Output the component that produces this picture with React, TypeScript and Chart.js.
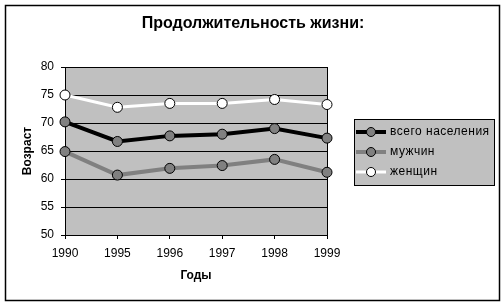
import React, { useEffect, useRef } from "react";
import { Chart, registerables } from "chart.js";

Chart.register(...registerables);

const years = ["1990", "1995", "1996", "1997", "1998", "1999"];
const total = [70.2, 66.7, 67.7, 68.0, 69.0, 67.3];
const men = [64.9, 60.7, 61.9, 62.4, 63.5, 61.2];
const women = [75.0, 72.8, 73.5, 73.5, 74.2, 73.3];
const seriesNames = ["всего населения", "мужчин", "женщин"];
const titleText = "Продолжительность жизни:";
const yTitle = "Возраст";
const xTitle = "Годы";

const FONT = "'Liberation Sans', Arial, sans-serif";

const decor = {
  id: "decor",
  beforeDraw(chart: any) {
    const ctx = chart.ctx;
    const a = chart.chartArea;
    ctx.save();
    ctx.fillStyle = "#ffffff";
    ctx.fillRect(0, 0, chart.width, chart.height);
    ctx.strokeStyle = "#000000";
    ctx.lineWidth = 1.5;
    ctx.strokeRect(5.5, 5.5, 494, 295);
    ctx.fillStyle = "#c0c0c0";
    ctx.fillRect(a.left, a.top, a.right - a.left, a.bottom - a.top);
    ctx.restore();
  },
  beforeDatasetsDraw(chart: any) {
    const ctx = chart.ctx;
    const a = chart.chartArea;
    ctx.save();
    ctx.strokeStyle = "#000000";
    ctx.lineWidth = 1;
    ctx.beginPath();
    ctx.moveTo(a.right + 0.5, a.top);
    ctx.lineTo(a.right + 0.5, a.bottom);
    ctx.stroke();
    ctx.restore();
  },
  afterDraw(chart: any) {
    const ctx = chart.ctx;
    const a = chart.chartArea;
    ctx.save();
    ctx.fillStyle = "#000000";
    ctx.textAlign = "center";
    ctx.textBaseline = "middle";
    ctx.font = `bold 16px ${FONT}`;
    ctx.fillText(titleText, 253, 24);
    ctx.font = `bold 12px ${FONT}`;
    ctx.fillText(xTitle, (a.left + a.right) / 2, 276);
    ctx.save();
    ctx.translate(28, 151);
    ctx.rotate(-Math.PI / 2);
    ctx.fillText(yTitle, 0, 0);
    ctx.restore();

    // legend
    const lx = 354, ly = 119, lw = 140, lh = 66;
    ctx.fillStyle = "#c0c0c0";
    ctx.fillRect(lx, ly, lw, lh);
    ctx.strokeStyle = "#000000";
    ctx.lineWidth = 1;
    ctx.strokeRect(lx + 0.5, ly + 0.5, lw, lh);
    chart.data.datasets.forEach((ds: any, i: number) => {
      const y = 132 + i * 20;
      ctx.strokeStyle = ds.borderColor;
      ctx.lineWidth = ds.borderWidth;
      ctx.beginPath();
      ctx.moveTo(356, y);
      ctx.lineTo(386, y);
      ctx.stroke();
      ctx.beginPath();
      ctx.arc(371, y, 4.5, 0, Math.PI * 2);
      ctx.fillStyle = ds.pointBackgroundColor;
      ctx.fill();
      ctx.strokeStyle = "#000000";
      ctx.lineWidth = 1;
      ctx.stroke();
      ctx.fillStyle = "#000000";
      ctx.font = `12px ${FONT}`;
      ctx.textAlign = "left";
      ctx.textBaseline = "middle";
      (ctx as any).letterSpacing = "0.5px";
      ctx.fillText(ds.label, 390, y);
      (ctx as any).letterSpacing = "0px";
    });
    ctx.restore();
  },
};

export default function App() {
  const ref = useRef<HTMLCanvasElement>(null);
  useEffect(() => {
    document.body.style.margin = "0";
    if (!ref.current) return;
    const chart = new Chart(ref.current, {
      type: "line",
      data: {
        labels: years,
        datasets: [
          {
            label: seriesNames[0],
            data: total,
            borderColor: "#000000",
            borderWidth: 4,
            pointBackgroundColor: "#808080",
            pointBorderColor: "#000000",
            pointBorderWidth: 1,
            pointRadius: 5,
            tension: 0,
          },
          {
            label: seriesNames[1],
            data: men,
            borderColor: "#808080",
            borderWidth: 4,
            pointBackgroundColor: "#808080",
            pointBorderColor: "#000000",
            pointBorderWidth: 1,
            pointRadius: 5,
            tension: 0,
          },
          {
            label: seriesNames[2],
            data: women,
            borderColor: "#ffffff",
            borderWidth: 3,
            pointBackgroundColor: "#ffffff",
            pointBorderColor: "#000000",
            pointBorderWidth: 1,
            pointRadius: 5,
            tension: 0,
          },
        ],
      },
      options: {
        responsive: false,
        maintainAspectRatio: false,
        animation: false,
        layout: { padding: { left: 0, top: 67, right: 177, bottom: 0 } },
        plugins: {
          legend: { display: false },
          title: { display: false },
          tooltip: { enabled: false },
        },
        scales: {
          x: {
            type: "category",
            offset: false,
            afterFit: (s: any) => {
              s.height = 70;
            },
            grid: {
              drawOnChartArea: false,
              drawTicks: true,
              tickLength: 4,
              color: "#000000",
            },
            border: { display: true, color: "#000000", width: 1 },
            ticks: {
              color: "#000000",
              font: { family: FONT, size: 12 },
              padding: 7,
              maxRotation: 0,
              autoSkip: false,
            },
          },
          y: {
            min: 50,
            max: 80,
            afterFit: (s: any) => {
              s.width = 65;
            },
            grid: {
              color: "#000000",
              lineWidth: 1,
              drawTicks: true,
              tickLength: 4,
            },
            border: { display: true, color: "#000000", width: 1 },
            ticks: {
              stepSize: 5,
              color: "#000000",
              font: { family: FONT, size: 12 },
              padding: 7,
            },
          },
        },
      },
      plugins: [decor],
    });
    return () => chart.destroy();
  }, []);
  return (
    <div style={{ width: 504, height: 305 }}>
      <canvas ref={ref} width={504} height={305} style={{ display: "block", width: 504, height: 305 }} />
    </div>
  );
}
